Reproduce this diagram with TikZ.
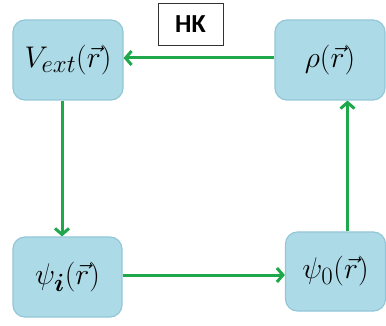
\RequirePackage{fix-cm}
\documentclass[tikz,border=0pt]{standalone}
\usepackage{amsmath}
\usepackage{fontspec}
\newfontfamily\hkfont{Carlito}
\usetikzlibrary{arrows.meta}
\definecolor{boxfill}{HTML}{ADDAE7}
\definecolor{boxdraw}{HTML}{93C7D8}
\definecolor{arrgreen}{HTML}{1FA84B}
\newcommand{\boxmath}[2]{\raisebox{#1}{\scalebox{1.2}{$#2$}}}
\tikzset{
  statebox/.style={draw=boxdraw, line width=1.2pt, fill=boxfill, rounded corners=12pt, inner sep=0pt, font=\fontsize{24.88}{30}\selectfont},
  flow/.style={draw=arrgreen, line width=3pt, -{Straight Barb[length=6pt,width=14pt,line width=3pt]}},
}
\begin{document}
\begin{tikzpicture}[x=1pt,y=1pt]
\useasboundingbox (0,0) rectangle (386,-326);
\node[statebox, minimum width=110pt, minimum height=80pt] (vext) at (68,-60) {\boxmath{4pt}{V_{ext}(\vec{r})}};
\node[statebox, minimum width=110pt, minimum height=80pt] (rho) at (330,-60) {\boxmath{4pt}{\rho(\vec{r})}};
\node[statebox, minimum width=109pt, minimum height=80pt] (psii) at (67.5,-277) {\boxmath{5pt}{\psi_{\boldsymbol{i}}(\vec{r})}};
\node[statebox, minimum width=100pt, minimum height=79pt] (psio) at (335.5,-271.5) {\boxmath{5pt}{\psi_0(\vec{r})}};
\node[draw=black!80, line width=0.9pt, fill=white, minimum width=65pt, minimum height=42pt, inner sep=0pt, font=\hkfont\bfseries\fontsize{26}{30}\selectfont] (hk) at (190.5,-24) {HK};
\draw[flow] ([yshift=2pt]rho.west) -- ([yshift=2pt]rho.west -| vext.east);
\draw[flow] ([xshift=-6pt]vext.south) -- ([xshift=-6pt]vext.south |- psii.north);
\draw[flow] ([yshift=2pt]psii.east) -- ([yshift=2pt]psii.east -| psio.west);
\draw[flow] ([xshift=12pt]psio.north) -- ([xshift=12pt]psio.north |- rho.south);
\end{tikzpicture}
\end{document}
